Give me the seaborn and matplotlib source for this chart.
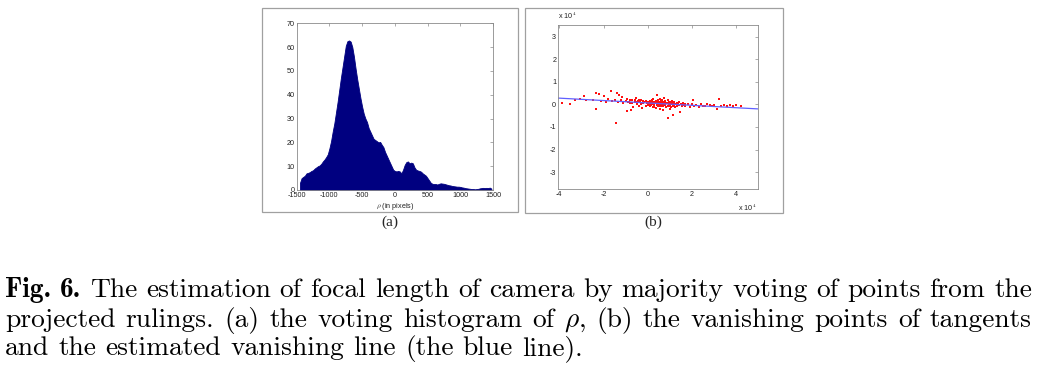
import numpy as np
import pandas as pd
import seaborn as sns
import matplotlib
matplotlib.use("Agg")
import matplotlib.pyplot as plt
from matplotlib.patches import Rectangle

# ---------------- data ----------------
# (a) voting histogram of rho: bin centres (step 25 px) and counts
rho_centers = np.arange(-1450, 1476, 25)
rho_counts = [
    3, 5, 5.5, 6, 7, 7.2, 7.5, 8, 8.3, 9, 9.5, 10, 10.3, 11, 12, 12.8, 13.8, 15,
    17.5, 20.5, 24.5, 28, 32.5, 37, 42, 47, 51.5, 56, 60.5, 62.5, 62.8, 62.3, 60,
    56, 51, 46.5, 42.5, 38.5, 35, 32, 30, 28.5, 26, 24.5, 23, 21.5, 21, 20.5, 20,
    20.2, 19, 18, 16, 14.5, 13, 11.5, 10, 8.5, 8, 7.8, 8, 7.8, 7, 8.5, 10.5, 11.7,
    12, 11.2, 11.5, 11.2, 9.5, 8.5, 8.2, 8, 7.7, 7, 6.5, 6, 5, 4, 3, 2.6, 2.5, 2.5,
    2.3, 2.6, 2.8, 2.7, 2.6, 2.4, 2.2, 2, 1.9, 1.7, 1.6, 1.5, 1.4, 1.4, 1.3, 1.1,
    1, 0.8, 0.7, 0.6, 0.5, 0.4, 0.4, 0.3, 0.4, 0.5, 0.7, 0.8, 0.9, 0.8, 0.9, 0.8,
    1.0, 0.6,
]

# (b) vanishing points (units of 1e4) and the fitted vanishing line
vp_x = [
    -3.9, -3.5, -3.3, -3.05, -2.9, -2.8, -2.5, -2.36, -2.33, -2.21, -2.1, -2.0,
    -1.9, -1.8, -1.68, -1.6, -1.5, -1.45, -1.41, -1.35, -1.30, -1.2, -1.15, -1.1,
    -1.0, -0.95, -0.92, -0.85, -0.8, -0.77, -0.7, -0.65, -0.6, -0.55, -0.5, -0.45,
    -0.4, -0.35, -0.3, -0.25, -0.2, -0.15, -0.1, -0.05,
    0.0, 0.05, 0.1, 0.12, 0.15, 0.2, 0.22, 0.25, 0.3, 0.32, 0.35, 0.4, 0.4, 0.45,
    0.48, 0.5, 0.55, 0.55, 0.6, 0.62, 0.65, 0.68, 0.7, 0.72, 0.75, 0.8, 0.82, 0.85,
    0.9, 0.92, 0.95, 1.0, 1.02, 1.05, 1.1, 1.15, 1.15, 1.2, 1.25, 1.3, 1.35, 1.4,
    1.45, 1.5, 1.55, 1.6, 1.7, 1.8, 1.9, 2.0, 2.06, 2.1, 2.2, 2.3, 2.4, 2.5, 2.6,
    2.7, 2.82, 2.9, 3.0, 3.12, 3.2, 3.3, 3.45, 3.6, 3.73, 3.85, 4.0, 4.2,
    0.1, 0.2, 0.3, 0.5, 0.6, 0.7, 0.8, 0.9, 1.0, 0.15, 0.35, 0.45, -0.3, -0.6,
    -0.2, 0.25, 0.65, 1.1, 1.3, 0.0,
    0.05, 0.1, 0.15, 0.2, 0.25, 0.3, 0.35, 0.4, 0.45, 0.5, 0.55, 0.6, 0.65, 0.7,
    0.75, 0.8, 0.85, 0.9, 0.95, 1.0, 1.05, 1.1, 1.15, 1.2, 1.25, 1.3, 1.35, 1.4,
    1.5, 1.6,
    -0.9, -0.8, -0.7, -0.6, -0.5, -0.4, -0.3, -0.2, -0.1, 0.0, 0.08, 0.18, 0.28,
    0.38, 0.58, 0.78, 0.98, 1.18, 1.38, 1.7,
]
vp_y = [
    0.05, 0.03, 0.2, 0.22, 0.38, 0.2, 0.18, -0.22, 0.52, 0.44, 0.15, 0.38,
    0.1, 0.22, 0.58, 0.15, 0.2, -0.83, 0.52, 0.1, 0.40, 0.2, 0.33, 0.05,
    0.15, 0.25, -0.31, 0.12, 0.05, -0.27, 0.2, -0.1, 0.1, 0.28, 0.0, 0.15,
    -0.05, 0.1, 0.2, -0.15, 0.05, 0.12, -0.05, 0.08,
    0.02, 0.1, -0.05, 0.15, 0.05, 0.2, -0.1, 0.08, 0.0, 0.12, -0.15, 0.43, 0.05, 0.18,
    -0.05, 0.1, 0.25, -0.2, 0.02, 0.15, -0.08, -0.27, 0.08, 0.3, -0.02, 0.12, -0.12, 0.05,
    0.2, -0.59, -0.03, 0.1, -0.2, 0.02, 0.15, -0.49, -0.05, 0.05, -0.1, 0.08, -0.02, 0.12,
    -0.35, 0.0, -0.08, 0.05, -0.05, 0.02, -0.1, 0.0, 0.18, -0.05, -0.02, -0.12, 0.0, -0.05, -0.08,
    0.0, -0.04, -0.06, -0.02, -0.22, 0.25, -0.05, -0.04, -0.06, -0.04, -0.05, -0.03, -0.06,
    0.08, 0.0, 0.1, -0.02, 0.12, -0.05, 0.0, 0.08, -0.05, -0.02, 0.05, 0.0, 0.08, 0.18,
    0.15, 0.25, 0.2, 0.0, -0.08, 0.12,
    0.0, 0.05, -0.02, 0.1, 0.03, -0.06, 0.08, -0.03, 0.12, 0.04, -0.08, 0.06, 0.0, 0.1,
    0.04, -0.04, 0.08, -0.06, 0.05, 0.02, -0.1, 0.07, 0.0, -0.03, 0.04, -0.05, 0.06, -0.02,
    0.03, -0.03,
    0.1, 0.18, 0.08, 0.14, 0.1, 0.2, 0.02, 0.1, 0.14, -0.04, 0.16, 0.1, -0.12,
    0.15, 0.2, 0.15, 0.12, 0.1, 0.02, 0.0,
]
line_x = [-4.05, 5.0]
line_y = [0.28, -0.2]

hist_xticks = [-1500, -1000, -500, 0, 500, 1000, 1500]
hist_yticks = [0, 10, 20, 30, 40, 50, 60, 70]
vp_xticks = [-4, -2, 0, 2, 4]
vp_yticks = [-3, -2, -1, 0, 1, 2, 3]

caption_lines = [
    [("Fig.", True), ("6.", True), ("The", False), ("estimation", False), ("of", False),
     ("focal", False), ("length", False), ("of", False), ("camera", False), ("by", False),
     ("majority", False), ("voting", False), ("of", False), ("points", False), ("from", False),
     ("the", False)],
    [("projected", False), ("rulings.", False), ("(a)", False), ("the", False), ("voting", False),
     ("histogram", False), ("of", False), (r"$\rho$,", False), ("(b)", False), ("the", False),
     ("vanishing", False), ("points", False), ("of", False), ("tangents", False)],
    [("and", False), ("the", False), ("estimated", False), ("vanishing", False), ("line", False),
     ("(the", False), ("blue", False), ("line).", False)],
]

# ---------------- style ----------------
sns.set_theme(style="white")
plt.rcParams["font.family"] = ["Liberation Sans", "DejaVu Sans"]
plt.rcParams["mathtext.fontset"] = "cm"
plt.rcParams["axes.unicode_minus"] = False

W, H = 1049, 374
fig = plt.figure(figsize=(W / 100, H / 100), dpi=100)


def fx(px):
    return px / W


def fy(py):
    return 1 - py / H


def style_axes(ax):
    for s in ax.spines.values():
        s.set_color("#8a8a8a")
        s.set_linewidth(0.6)
    ax.tick_params(direction="in", length=2, width=0.5, top=True, right=True,
                   labelsize=5.2, color="#8a8a8a", labelcolor="#222222", pad=1.5)


# panel frames
fig.add_artist(Rectangle((fx(262), fy(212)), fx(518) - fx(262), fy(8) - fy(212),
                         transform=fig.transFigure, fill=False, edgecolor="#a0a0a0", lw=0.9))
fig.add_artist(Rectangle((fx(525), fy(213)), fx(783) - fx(525), fy(8) - fy(213),
                         transform=fig.transFigure, fill=False, edgecolor="#a0a0a0", lw=0.9))

# (a) histogram
ax1 = fig.add_axes([fx(296.7), fy(190), fx(493) - fx(296.7), fy(23.3) - fy(190)])
sns.histplot(x=rho_centers, weights=rho_counts, binwidth=25, binrange=(-1462.5, 1487.5),
             element="poly", fill=True, color="#000080", alpha=1, linewidth=0.6,
             edgecolor="#000080", ax=ax1)
ax1.set_xlim(-1500, 1500)
ax1.set_ylim(0, 70)
ax1.set_xticks(hist_xticks)
ax1.set_yticks(hist_yticks)
ax1.set_ylabel("")
ax1.set_xlabel(r"$\rho$ (in pixels)", fontsize=5.2, color="#222222", labelpad=1.5)
style_axes(ax1)

# (b) vanishing points
ax2 = fig.add_axes([fx(558.3), fy(189), fx(758.3) - fx(558.3), fy(25) - fy(189)])
sns.scatterplot(x=vp_x, y=vp_y, color="#ff1010", s=2, marker="s", linewidth=0, ax=ax2)
sns.lineplot(x=line_x, y=line_y, color="#6060ff", linewidth=0.9, ax=ax2)
ax2.set_xlim(-4.05, 5.0)
ax2.set_ylim(-3.75, 3.52)
ax2.set_xticks(vp_xticks)
ax2.set_yticks(vp_yticks)
style_axes(ax2)
ax2.text(0.0, 1.025, r"x 10$^4$", transform=ax2.transAxes, fontsize=5.2, color="#222222",
         ha="left", va="bottom")
ax2.text(0.9, -0.085, r"x 10$^4$", transform=ax2.transAxes, fontsize=5.2, color="#222222",
         ha="left", va="top")

# sub-captions
fig.text(fx(390), fy(222), "(a)", fontsize=11, family=["Liberation Serif"], ha="center", va="center")
fig.text(fx(653), fy(222), "(b)", fontsize=11, family=["Liberation Serif"], ha="center", va="center")

# main caption (justified like LaTeX)
FS = 19.8
renderer = fig.canvas.get_renderer()
baselines = [297, 327, 355]
x_left, x_right = 5, 1032
for li, words in enumerate(caption_lines):
    texts = []
    for w, bold in words:
        t = fig.text(0, fy(baselines[li]), w, fontsize=FS,
                     family=["cmb10"] if bold else ["cmr10"], color="black",
                     ha="left", va="baseline")
        texts.append(t)
    widths = [t.get_window_extent(renderer).width for t in texts]
    if li < len(caption_lines) - 1:
        gap = (x_right - x_left - sum(widths)) / (len(words) - 1)
    else:
        gap = 0.333 * FS * 100 / 72
    x = x_left
    for t, wdt in zip(texts, widths):
        t.set_x(fx(x))
        x += wdt + gap

fig.savefig("out.png", dpi=100, facecolor="white")
